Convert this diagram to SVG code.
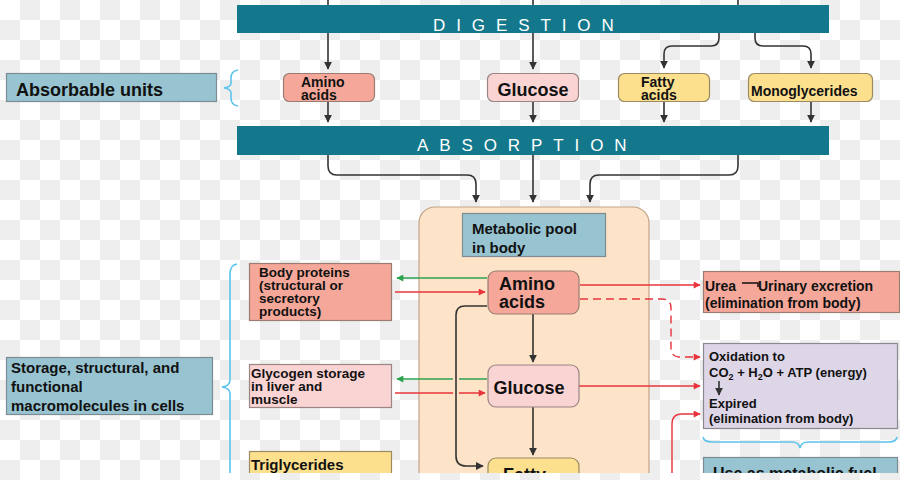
<svg xmlns="http://www.w3.org/2000/svg" width="900" height="480" viewBox="0 0 900 480">
<defs>
<pattern id="chk" width="40" height="40" patternUnits="userSpaceOnUse">
<rect width="40" height="40" fill="#ffffff"/>
<rect x="20" y="0" width="20" height="20" fill="#eeeeee"/>
<rect x="0" y="20" width="20" height="20" fill="#eeeeee"/>
</pattern>
<marker id="ak" viewBox="0 0 10 10" refX="9" refY="5" markerWidth="8" markerHeight="8" markerUnits="userSpaceOnUse" orient="auto"><path d="M0,0 L10,5 L0,10 z" fill="#333"/></marker>
<marker id="ar" viewBox="0 0 10 10" refX="9" refY="5" markerWidth="8" markerHeight="7" markerUnits="userSpaceOnUse" orient="auto"><path d="M0,0 L10,5 L0,10 z" fill="#e8343c"/></marker>
<marker id="ag" viewBox="0 0 10 10" refX="9" refY="5" markerWidth="8" markerHeight="7" markerUnits="userSpaceOnUse" orient="auto"><path d="M0,0 L10,5 L0,10 z" fill="#2ca24e"/></marker>
</defs>
<style>
.t{font-family:"Liberation Sans",Arial,Helvetica,sans-serif;font-weight:bold;fill:#111}
.bar{fill:#14788c}
.bt{font-family:"Liberation Sans",Arial,Helvetica,sans-serif;font-size:17px;fill:#ffffff;letter-spacing:10.9px}
.lab{fill:#97c4d0;stroke:#7d8c92;stroke-width:1.2}
.sal{fill:#f5a899;stroke:#9a7c72;stroke-width:1.2}
.pink{fill:#fad3d3;stroke:#9a8484;stroke-width:1.2}
.yel{fill:#fce08e;stroke:#9c8a60;stroke-width:1.2}
.lav{fill:#ddd6e7;stroke:#8a8890;stroke-width:1.2}
.k{fill:none;stroke:#333;stroke-width:1.6}
.r{fill:none;stroke:#e8343c;stroke-width:1.4}
.g{fill:none;stroke:#2ca24e;stroke-width:1.4}
.br{fill:none;stroke:#5cc3ec;stroke-width:1.6}
</style>
<rect width="900" height="480" fill="url(#chk)"/>

<g id="digestion"><rect class="bar" x="237" y="5" width="592" height="28"/><text class="bt" x="433" y="31">DIGESTION</text></g>
<g id="absorption"><rect class="bar" x="237" y="126" width="592" height="29"/><text class="bt" x="417" y="151">ABSORPTION</text></g>

<g id="absorbable-units"><rect class="lab" x="6.5" y="73.5" width="210" height="28"/><text class="t" x="16" y="96" font-size="18">Absorbable units</text></g>
<g id="amino-top"><rect class="sal" x="283.5" y="73.5" width="91" height="28" rx="6"/><text class="t" font-size="14" x="301" y="87">Amino</text><text class="t" font-size="14" x="301" y="100">acids</text></g>
<g id="glucose-top"><rect class="pink" x="487.5" y="73.5" width="91" height="28" rx="6"/><text class="t" font-size="18" x="533" y="96" text-anchor="middle">Glucose</text></g>
<g id="fatty-top"><rect class="yel" x="618.5" y="73.5" width="91" height="28" rx="6"/><text class="t" font-size="14" x="641" y="87">Fatty</text><text class="t" font-size="14" x="641" y="100">acids</text></g>
<g id="mono-top"><rect class="yel" x="748.5" y="73.5" width="124" height="28" rx="6"/><text class="t" font-size="14" x="751" y="96">Monoglycerides</text></g>

<g id="pool"><rect x="419" y="207" width="230" height="300" rx="16" fill="#fde4c8" stroke="#c4a486" stroke-width="1.2"/></g>
<g id="pool-label"><rect class="lab" x="462.5" y="213.5" width="143" height="43"/><text class="t" font-size="15" x="472" y="234">Metabolic pool</text><text class="t" font-size="15" x="472" y="253">in body</text></g>

<g id="connectors">
<path class="k" d="M328,0 V5"/><path class="k" d="M533,0 V5"/><path class="k" d="M738,0 V5"/>
<path class="k" d="M328,33 V69" marker-end="url(#ak)"/>
<path class="k" d="M533,33 V69" marker-end="url(#ak)"/>
<path class="k" d="M719,33 V38 Q719,46 711,46 H672 Q664,46 664,54 V68" marker-end="url(#ak)"/>
<path class="k" d="M755,33 V38 Q755,46 763,46 H803 Q811,46 811,54 V68" marker-end="url(#ak)"/>
<path class="k" d="M328,102 V122" marker-end="url(#ak)"/>
<path class="k" d="M533,102 V122" marker-end="url(#ak)"/>
<path class="k" d="M664,102 V122" marker-end="url(#ak)"/>
<path class="k" d="M811,102 V122" marker-end="url(#ak)"/>
<path class="k" d="M328,155 V166 Q328,175 337,175 H467 Q476,175 476,184 V202" marker-end="url(#ak)"/>
<path class="k" d="M533,155 V202" marker-end="url(#ak)"/>
<path class="k" d="M738,155 V166 Q738,175 729,175 H599 Q590,175 590,184 V202" marker-end="url(#ak)"/>
<path class="g" d="M487,278 H397" marker-end="url(#ag)"/>
<path class="r" d="M395,292 H485" marker-end="url(#ar)"/>
<path class="g" d="M487,379 H397" marker-end="url(#ag)"/>
<path class="r" d="M395,393 H485" marker-end="url(#ar)"/>
<path class="r" d="M580,285 H700" marker-end="url(#ar)"/>
<path class="r" d="M580,299 H662 Q671,299 671,308 V348 Q671,357 680,357 H700" stroke-dasharray="8,5" marker-end="url(#ar)"/>
<path class="r" d="M579,386 H700" marker-end="url(#ar)"/>
<path class="r" d="M672,480 V424 Q672,414 682,414 H700" marker-end="url(#ar)"/>
<path d="M487,306 H465 Q456,306 456,315 V456 Q456,466 466,466 H482" fill="none" stroke="#fde4c8" stroke-width="6"/>
<path class="k" d="M487,306 H465 Q456,306 456,315 V456 Q456,466 466,466 H483" marker-end="url(#ak)"/>
<path class="k" d="M533,314 V362" marker-end="url(#ak)"/>
<path class="k" d="M533,407 V455" marker-end="url(#ak)"/>
</g>

<g id="amino-pool"><rect class="sal" x="488" y="271" width="91" height="43" rx="8"/><text class="t" font-size="18" x="499" y="290">Amino</text><text class="t" font-size="18" x="499" y="308">acids</text></g>
<g id="glucose-pool"><rect class="pink" x="488" y="365" width="91" height="42" rx="8"/><text class="t" font-size="18" x="529" y="394" text-anchor="middle">Glucose</text></g>
<g id="fatty-pool"><rect class="yel" x="488" y="458" width="91" height="40" rx="8"/><text class="t" font-size="18" x="503" y="481">Fatty</text></g>

<g id="body-proteins"><rect class="sal" x="249.5" y="263.5" width="142" height="57"/>
<text class="t" font-size="13.5" x="259" y="277">Body proteins</text><text class="t" font-size="13.5" x="259" y="290">(structural or</text><text class="t" font-size="13.5" x="259" y="303">secretory</text><text class="t" font-size="13.5" x="259" y="316">products)</text></g>
<g id="glycogen"><rect class="pink" x="249.5" y="364.5" width="142" height="43"/>
<text class="t" font-size="13.5" x="251" y="378">Glycogen storage</text><text class="t" font-size="13.5" x="251" y="391">in liver and</text><text class="t" font-size="13.5" x="251" y="404">muscle</text></g>
<g id="triglycerides"><rect class="yel" x="249.5" y="451.5" width="142" height="40"/><text class="t" font-size="15" x="251" y="470">Triglycerides</text></g>

<g id="storage"><rect class="lab" x="6.5" y="357.5" width="206" height="57"/>
<text class="t" font-size="15" x="11" y="373">Storage, structural, and</text><text class="t" font-size="15" x="11" y="392">functional</text><text class="t" font-size="15" x="11" y="411">macromolecules in cells</text></g>

<g id="urea"><rect class="sal" x="703.5" y="271.5" width="196" height="41"/>
<text class="t" font-size="14" x="705" y="291">Urea</text><path d="M742,283 H758 V287" fill="none" stroke="#111" stroke-width="1.5"/><text class="t" font-size="14" x="758" y="291">Urinary excretion</text><text class="t" font-size="14" x="705" y="308">(elimination from body)</text></g>
<g id="oxidation"><rect class="lav" x="703.5" y="343.5" width="194" height="85"/>
<text class="t" font-size="13" x="709" y="361">Oxidation to</text>
<text class="t" font-size="13" x="709" y="377">CO<tspan font-size="9" dy="3">2</tspan><tspan dy="-3"> + H</tspan><tspan font-size="9" dy="3">2</tspan><tspan dy="-3">O + ATP (energy)</tspan></text>
<path class="k" d="M719,381 V395" stroke="#111" marker-end="url(#ak)"/>
<text class="t" font-size="13" x="709" y="408">Expired</text><text class="t" font-size="13" x="709" y="423">(elimination from body)</text></g>
<g id="fuel"><rect class="lab" x="703.5" y="457.5" width="194" height="40"/><text class="t" font-size="16" x="713" y="479">Use as metabolic fuel</text></g>

<g id="braces">
<path class="br" d="M238,70 Q231,71 231,78 V83 Q231,87 224,88 Q231,89 231,93 V98 Q231,105 238,106"/>
<path class="br" d="M237,264 Q230,265 230,274 V380 Q230,386 222,387 Q230,388 230,394 V480"/>
<path class="br" d="M703,437 Q704,442 712,442 H792 Q799,442 800,448 Q801,442 808,442 H889 Q896,442 897,437"/>
</g>

<rect x="0" y="473" width="900" height="7" fill="url(#chk)"/>
</svg>
